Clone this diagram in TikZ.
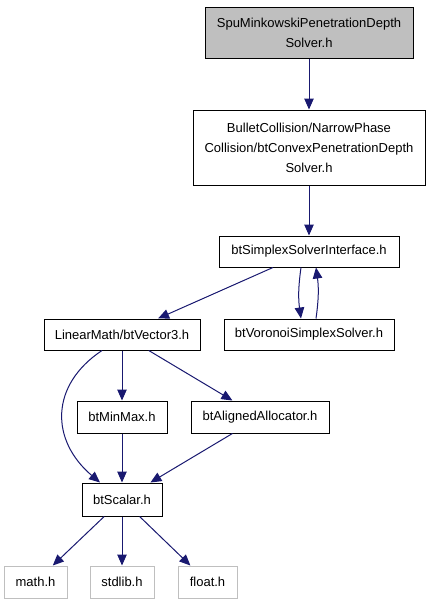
\documentclass[tikz,border=0pt]{standalone}
\usepackage{fontspec}
\setmainfont{Liberation Sans}
\usetikzlibrary{arrows.meta}

\definecolor{edgeblue}{RGB}{25,25,112}
\definecolor{topgray}{RGB}{191,191,191}
\definecolor{sysgray}{RGB}{191,191,191}

\begin{document}
\begin{tikzpicture}[x=1pt,y=-1pt,
    file/.style={draw=black, line width=1pt, fill=white, inner sep=0pt,
        minimum height=31pt, align=center,
        font=\fontsize{13}{20}\selectfont},
    sysfile/.style={file, draw=sysgray},
    edge/.style={draw=edgeblue, line width=1pt,
        -{Triangle[length=11pt,width=9.5pt]}}]
    % Fix the page size
    \useasboundingbox (0,0) rectangle (431,605);

    % Draw header nodes
    \node[file, fill=topgray, minimum width=208pt, minimum height=51pt] (spu) at (309,32.5)
        {SpuMinkowskiPenetrationDepth\\Solver.h};
    \node[file, minimum width=232pt, minimum height=75pt] (conv) at (309,147.5)
        {BulletCollision/NarrowPhase\\Collision/btConvexPenetrationDepth\\Solver.h};
    \node[file, minimum width=180pt] (simplex) at (309,251.5) {btSimplexSolverInterface.h};
    \node[file, minimum width=156pt] (vec3) at (122,334.5) {LinearMath/btVector3.h};
    \node[file, minimum width=170pt] (voronoi) at (309,334.5) {btVoronoiSimplexSolver.h};
    \node[file, minimum width=90pt, minimum height=32pt] (minmax) at (122,417) {btMinMax.h};
    \node[file, minimum width=138pt, minimum height=32pt] (aligned) at (260,417) {btAlignedAllocator.h};
    \node[file, minimum width=80pt, minimum height=33pt] (scalar) at (122,499.5) {btScalar.h};

    % Draw system headers
    \node[sysfile, minimum width=63pt, minimum height=32pt] (math) at (35.5,582) {math.h};
    \node[sysfile, minimum width=64pt, minimum height=32pt] (stdlib) at (122,582) {stdlib.h};
    \node[sysfile, minimum width=59pt, minimum height=32pt] (float) at (207.5,582) {float.h};

    % Draw include edges
    \draw[edge] (spu) -- (conv);
    \draw[edge] (conv) -- (simplex);
    \draw[edge] (simplex) -- (vec3);
    \draw[edge] ([xshift=-8pt]simplex.south) to[bend right=8] ([xshift=-8pt]voronoi.north);
    \draw[edge] ([xshift=7pt]voronoi.north) to[bend right=8] ([xshift=7pt]simplex.south);
    \draw[edge] ([xshift=-20pt]vec3.south) .. controls (50,385) and (50,440) .. ([xshift=-22pt]scalar.north);
    \draw[edge] (vec3) -- (minmax);
    \draw[edge] (vec3) -- (aligned);
    \draw[edge] (minmax) -- (scalar);
    \draw[edge] (aligned) -- (scalar);
    \draw[edge] (scalar) -- (math);
    \draw[edge] (scalar) -- (stdlib);
    \draw[edge] (scalar) -- (float);
\end{tikzpicture}
\end{document}
